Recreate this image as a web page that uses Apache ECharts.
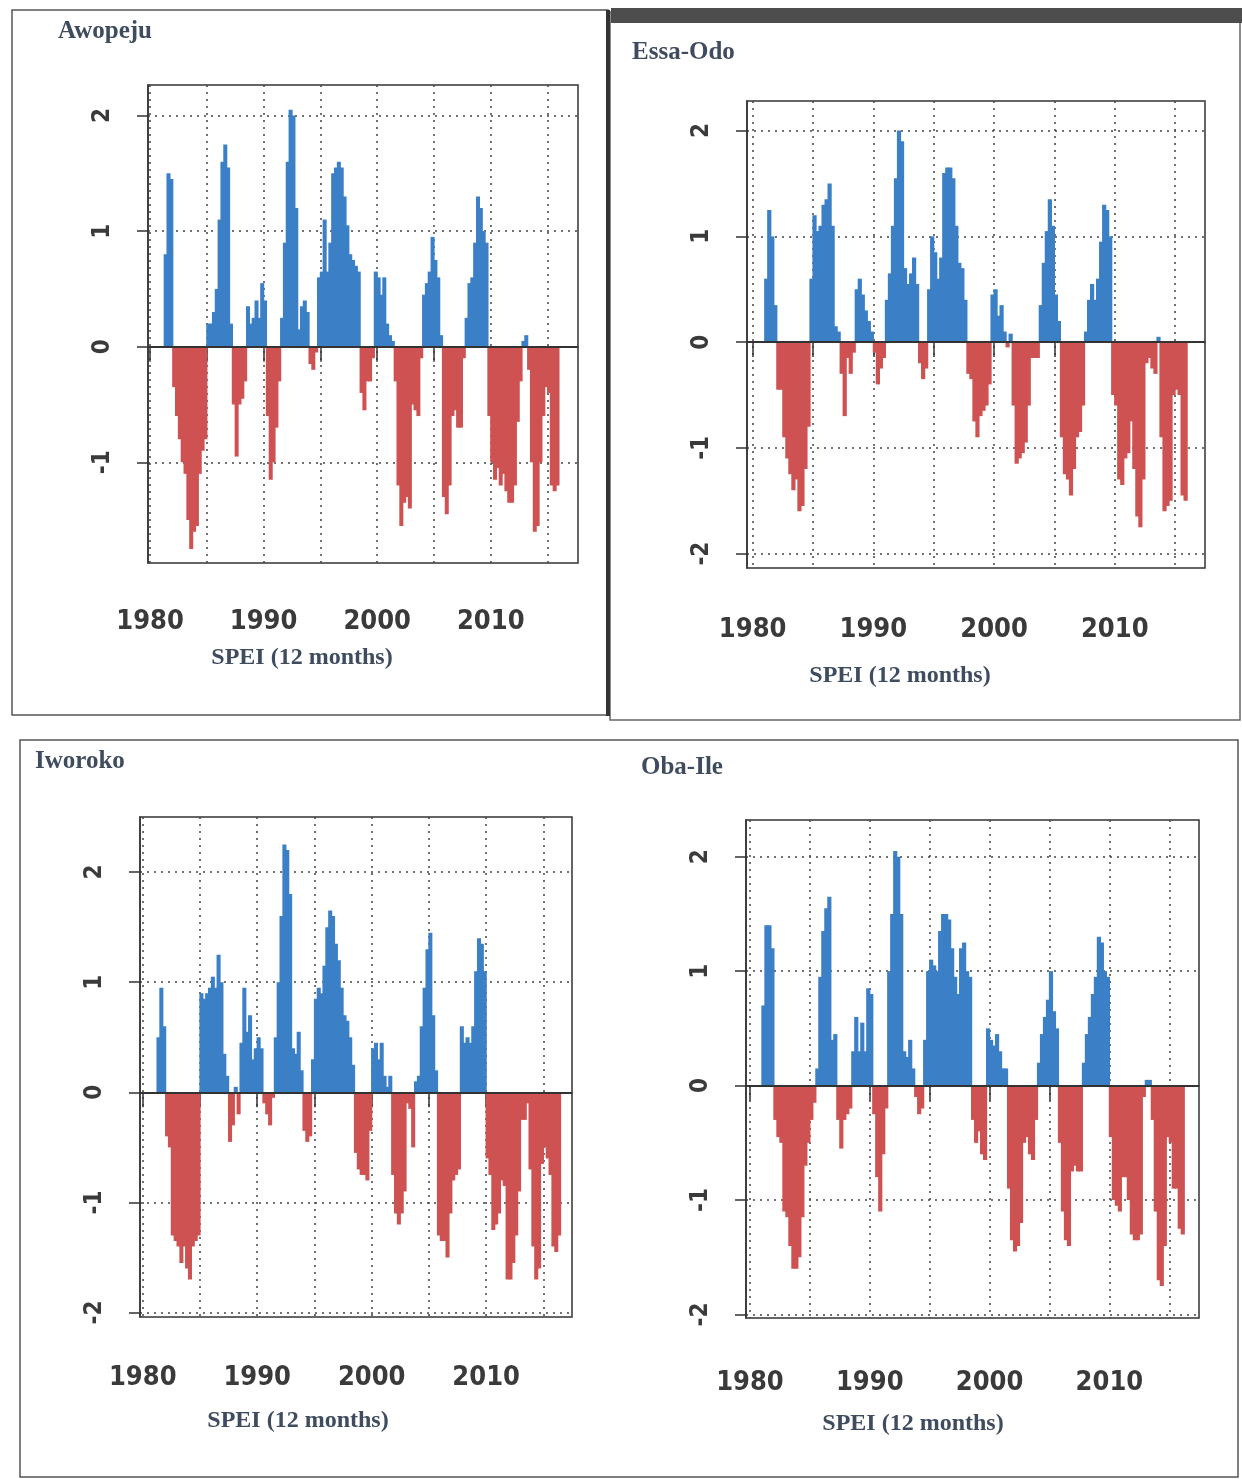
<!DOCTYPE html>
<html>
<head>
<meta charset="utf-8">
<title>SPEI (12 months)</title>
<script src="https://cdn.jsdelivr.net/npm/echarts@6.0.0/dist/echarts.min.js"></script>
<style>
  html, body { margin: 0; padding: 0; background: #fff; }
  #chart { width: 1242px; height: 1479px; }
</style>
</head>
<body>
<div id="chart"></div>
<script>
// SPEI-12, one value per quarter
const AWOPEJU_START = 1981.25;
const AWOPEJU = [
  0.8, 1.5, 1.45,
  -0.35, -0.6, -0.8, -1.0,    -1.1, -1.5, -1.75, -1.6,   -1.55, -1.1, -0.9, -0.8,
  0.2, 0.2, 0.3, 0.5,         1.1, 1.6, 1.75, 1.55,      0.2, -0.5, -0.95, -0.5,
  -0.45, -0.3, 0.35, 0.2,     0.25, 0.4, 0.25, 0.55,     0.4, -0.6, -1.15, -1.0,
  -0.7, -0.3, 0.25, 0.9,      1.6, 2.05, 2.0, 1.2,       0.15, 0.35, 0.4, 0.3,
  -0.15, -0.2, -0.05, 0.6,    0.65, 1.1, 0.65, 0.9,      1.5, 1.55, 1.6, 1.55,
  1.3, 1.05, 0.8, 0.75,       0.7, 0.65, -0.4, -0.55,    -0.3, -0.3, -0.1, 0.65,
  0.6, 0.45, 0.6, 0.2,        0.1, 0.05, -0.3, -1.2,     -1.55, -1.35, -1.3, -1.4,
  -0.5, -0.55, -0.6, -0.1,    0.45, 0.55, 0.65, 0.95,    0.75, 0.6, 0.1, -1.3,
  -1.45, -1.2, -0.6, -0.55,   -0.7, -0.7, -0.1, 0.25,    0.55, 0.6, 0.9, 1.3,
  1.2, 1.0, 0.9, -0.6,        -1.0, -1.15, -1.05, -1.2,  -1.1, -1.25, -1.35, -1.35,
  -1.2, -0.65, -0.3, 0.05,    0.1, -0.2, -1.0, -1.6,     -1.55, -1.0, -0.6, -0.35,
  -0.4, -1.2, -1.25, -1.2
];

const ESSA_ODO_START = 1981.0;
const ESSA_ODO = [
  0.6, 1.25, 1.0, 0.35,       -0.45, -0.45, -0.9, -1.1,  -1.25, -1.4, -1.3, -1.6,
  -1.55, -1.2, -0.8, 0.6,     1.2, 1.05, 1.1, 1.3,       1.35, 1.5, 1.1, 0.15,
  0.1, -0.3, -0.7, -0.15,     -0.3, -0.1, 0.5, 0.6,      0.45, 0.3, 0.2, 0.1,
  -0.1, -0.4, -0.25, -0.15,   0.4, 0.65, 1.1, 1.55,      2.0, 1.9, 0.7, 0.55,
  0.65, 0.8, 0.55, -0.2,      -0.35, -0.25, 0.5, 1.0,    0.85, 0.6, 0.8, 1.6,
  1.65, 1.65, 1.55, 1.1,      0.75, 0.7, 0.4, -0.3,      -0.35, -0.75, -0.9, -0.7,
  -0.65, -0.6, -0.4, 0.45,    0.5, 0.25, 0.35, 0.1,      -0.05, 0.08, -0.6, -1.15,
  -1.1, -1.05, -0.95, -0.6,   -0.15, -0.15, -0.15, 0.35, 0.75, 1.05, 1.35, 1.1,
  0.45, 0.2, -0.9, -1.25,     -1.3, -1.45, -1.2, -0.9,   -0.85, -0.6, 0.1, 0.4,
  0.55, 0.4, 0.6, 0.95,       1.3, 1.25, 1.0, -0.5,      -0.6, -1.3, -1.35, -1.1,
  -1.05, -0.75, -1.2, -1.65,  -1.75, -1.3, -0.2, -0.15,  -0.25, -0.3, 0.05, -0.9,
  -1.6, -1.55, -1.5, -0.5,    -0.45, -0.5, -1.45, -1.5
];

const IWOROKO_START = 1981.25;
const IWOROKO = [
  0.5, 0.95, 0.6,
  -0.4, -0.5, -1.3, -1.35,    -1.4, -1.55, -1.4, -1.6,   -1.7, -1.4, -1.35, -1.3,
  0.9, 0.85, 0.9, 0.95,       1.05, 0.95, 1.25, 1.0,     0.35, 0.15, -0.45, -0.3,
  0.05, -0.2, 0.45, 0.95,     0.55, 0.7, 0.3, 0.4,       0.5, 0.4, -0.1, -0.2,
  -0.3, -0.05, 0.5, 1.0,      1.6, 2.25, 2.2, 1.8,       0.4, 0.35, 0.55, 0.2,
  -0.35, -0.45, -0.4, 0.3,    0.85, 0.95, 0.9, 1.15,     1.5, 1.65, 1.6, 1.35,
  1.2, 0.95, 0.7, 0.65,       0.5, 0.25, -0.55, -0.7,    -0.75, -0.75, -0.8, -0.35,
  0.4, 0.45, 0.3, 0.45,       0.15, 0.05, 0.15, -0.75,   -1.1, -1.2, -1.1, -0.9,
  -0.1, -0.15, -0.5, 0.1,     0.15, 0.6, 0.95, 1.3,      1.45, 0.7, 0.2, -1.3,
  -1.35, -1.35, -1.5, -1.1,   -0.8, -0.75, -0.7, 0.6,    0.45, 0.5, 0.45, 0.6,
  1.1, 1.4, 1.35, 1.1,        -0.6, -0.75, -1.25, -1.2,  -1.1, -0.8, -0.85, -1.7,
  -1.7, -1.55, -1.3, -0.9,    -0.25, -0.25, -0.1, -0.7,  -1.4, -1.7, -1.6, -0.65,
  -0.5, -0.6, -0.75, -1.4,    -1.45, -1.3
];

const OBA_ILE_START = 1981.0;
const OBA_ILE = [
  0.7, 1.4, 1.4, 1.2,         -0.3, -0.45, -0.5, -1.1,   -1.15, -1.4, -1.6, -1.6,
  -1.5, -1.15, -0.7, -0.5,    -0.3, -0.15, 0.15, 0.95,   1.35, 1.55, 1.65, 0.4,
  0.45, -0.3, -0.55, -0.3,    -0.25, -0.2, 0.3, 0.6,     0.3, 0.55, 0.3, 0.85,
  0.8, -0.25, -0.8, -1.1,     -0.6, -0.2, 1.0, 1.5,      2.05, 2.0, 1.5, 0.3,
  0.25, 0.4, 0.15, -0.1,      -0.25, -0.2, 0.4, 1.0,     1.1, 1.05, 1.0, 1.35,
  1.5, 1.5, 1.45, 1.2,        0.95, 0.8, 1.2, 1.25,      1.0, 0.95, -0.3, -0.5,
  -0.4, -0.6, -0.65, 0.5,     0.4, 0.35, 0.45, 0.3,      0.15, 0.15, -0.9, -1.35,
  -1.45, -1.4, -1.2, -0.5,    -0.45, -0.6, -0.65, -0.3,  0.2, 0.45, 0.6, 0.75,
  1.0, 0.65, 0.5, -0.5,       -1.1, -1.35, -1.4, -0.75,  -0.7, -0.75, -0.75, 0.2,
  0.45, 0.6, 0.8, 0.95,       1.3, 1.25, 1.0, 0.95,      -0.45, -1.0, -1.05, -1.1,
  -0.8, -0.8, -1.0, -1.3,     -1.35, -1.35, -1.3, -0.1,  0.05, 0.05, -0.3, -1.1,
  -1.7, -1.75, -1.4, -0.45,   -0.5, -0.9, -0.9, -1.25,   -1.3
];

const X_TICKS = [1980, 1985, 1990, 1995, 2000, 2005, 2010, 2015];
const X_LABELS = [1980, 1990, 2000, 2010];
const Y_TICKS_SHORT = [-1, 0, 1, 2];
const Y_TICKS = [-2, -1, 0, 1, 2];
const AXIS_NAME = 'SPEI (12 months)';

const BLUE = '#3b80c6';
const RED = '#cf5252';
const INK = '#333';
const TITLE_INK = '#3f4c5f';
const NARROW = '"DejaVu Sans Condensed", "Liberation Sans", sans-serif';
const SERIF = '"Liberation Serif", "DejaVu Serif", serif';

const panels = [
  { title: 'Awopeju', values: AWOPEJU, start: AWOPEJU_START, yTicks: Y_TICKS_SHORT,
    grid: { left: 148, top: 85, width: 430, height: 478 },
    x: [1979.82, 2017.68], y: [-1.871, 2.264],
    titlePos: [58, 32], namePos: [302, 658], xMargin: 45 },
  { title: 'Essa-Odo', values: ESSA_ODO, start: ESSA_ODO_START, yTicks: Y_TICKS,
    grid: { left: 747, top: 101, width: 458, height: 467 },
    x: [1979.53, 2017.48], y: [-2.136, 2.28],
    titlePos: [632, 53], namePos: [900, 676], xMargin: 48 },
  { title: 'Iworoko', values: IWOROKO, start: IWOROKO_START, yTicks: Y_TICKS,
    grid: { left: 140, top: 817, width: 432, height: 500 },
    x: [1979.76, 2017.5], y: [-2.04, 2.5],
    titlePos: [35, 762], namePos: [298, 1421], xMargin: 47 },
  { title: 'Oba-Ile', values: OBA_ILE, start: OBA_ILE_START, yTicks: Y_TICKS,
    grid: { left: 746, top: 820, width: 453, height: 498 },
    x: [1979.67, 2017.48], y: [-2.03, 2.32],
    titlePos: [641, 768], namePos: [913, 1424], xMargin: 51 }
];

const dotted = { type: [2, 5], color: '#444', width: 1.5 };

const grids = panels.map(p => ({
  ...p.grid, show: true, borderColor: INK, borderWidth: 1.5, backgroundColor: 'transparent'
}));

const xAxes = panels.map((p, i) => ({
  type: 'value', gridIndex: i, min: p.x[0], max: p.x[1],
  axisLine: { show: true, lineStyle: { color: INK, width: 1.5 } },
  axisTick: { show: true, length: 15, customValues: X_TICKS, lineStyle: { color: INK, width: 1.5 } },
  axisLabel: {
    customValues: X_LABELS, margin: p.xMargin, fontSize: 27, fontWeight: 'bold',
    fontFamily: NARROW, color: '#3a3a3a', formatter: v => String(v)
  },
  splitLine: { show: true, lineStyle: dotted }
}));

const yAxes = panels.map((p, i) => ({
  type: 'value', gridIndex: i, min: p.y[0], max: p.y[1],
  axisLine: { show: true, lineStyle: { color: INK, width: 1.5 } },
  axisTick: { show: true, length: 11, customValues: p.yTicks, lineStyle: { color: INK, width: 1.5 } },
  axisLabel: {
    customValues: p.yTicks, rotate: 90, margin: 33, fontSize: 24, fontWeight: 'bold',
    fontFamily: NARROW, color: '#3a3a3a', formatter: v => String(v)
  },
  splitLine: { show: true, lineStyle: dotted }
}));

const series = panels.map((p, i) => {
  // px per quarter, widened so neighbouring bars join without seams
  const quarterPx = p.grid.width / (p.x[1] - p.x[0]) * 0.25;
  return {
    type: 'bar', xAxisIndex: i, yAxisIndex: i,
    barWidth: quarterPx + 1.2,
    data: p.values.map((v, k) => [p.start + k * 0.25 + 0.125, v]),
    itemStyle: { color: params => params.value[1] >= 0 ? BLUE : RED },
    animation: false,
    markLine: {
      silent: true, symbol: 'none', label: { show: false },
      lineStyle: { color: INK, width: 2, type: 'solid' },
      data: [{ yAxis: 0 }]
    }
  };
});

// scan frames around the panels
const frames = [
  { type: 'rect', shape: { x: 12, y: 10, width: 596, height: 705 }, style: { fill: 'none', stroke: '#555', lineWidth: 1.5 } },
  { type: 'rect', shape: { x: 610, y: 12, width: 630, height: 708 }, style: { fill: 'none', stroke: '#666', lineWidth: 1.5 } },
  { type: 'rect', shape: { x: 611, y: 8, width: 631, height: 15 }, style: { fill: '#4d4d4d' } },
  { type: 'line', shape: { x1: 608, y1: 10, x2: 608, y2: 716 }, style: { stroke: '#333', lineWidth: 4 } },
  { type: 'rect', shape: { x: 20, y: 740, width: 1218, height: 737 }, style: { fill: 'none', stroke: '#555', lineWidth: 1.5 } }
];

const texts = [];
panels.forEach(p => {
  texts.push({
    type: 'text', x: p.titlePos[0], y: p.titlePos[1],
    style: { text: p.title, font: 'bold 25px ' + SERIF, fill: TITLE_INK, align: 'left', verticalAlign: 'middle' }
  });
  texts.push({
    type: 'text', x: p.namePos[0], y: p.namePos[1],
    style: { text: AXIS_NAME, font: 'bold 24px ' + SERIF, fill: TITLE_INK, align: 'center', verticalAlign: 'middle' }
  });
});

const chart = echarts.init(document.getElementById('chart'), null, { renderer: 'canvas' });
chart.setOption({
  backgroundColor: '#fff',
  animation: false,
  grid: grids,
  xAxis: xAxes,
  yAxis: yAxes,
  series: series,
  graphic: { elements: frames.concat(texts) }
});
</script>
</body>
</html>
